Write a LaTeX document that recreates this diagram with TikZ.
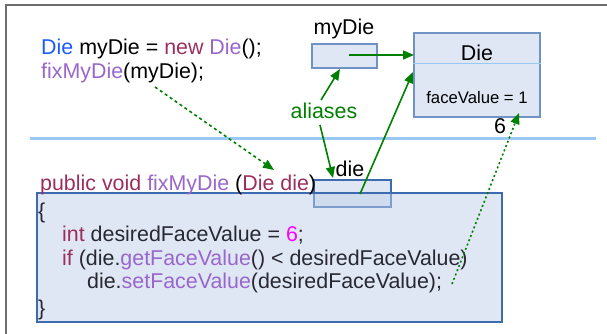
\documentclass[tikz,border=0pt]{standalone}
\usepackage{fontspec}
\setmainfont{Liberation Sans}
\usetikzlibrary{arrows.meta}
\definecolor{grn}{RGB}{0,128,0}
\definecolor{kwblue}{RGB}{26,92,255}
\definecolor{kwmag}{RGB}{155,46,94}
\definecolor{kwpur}{RGB}{153,102,204}
\definecolor{kwpink}{RGB}{255,0,255}
\definecolor{codetxt}{RGB}{40,40,50}
\definecolor{boxfill}{RGB}{190,208,232}
\definecolor{boxedge}{RGB}{112,146,196}
\definecolor{codeedge}{RGB}{62,106,176}
\definecolor{sepblue}{RGB}{153,200,245}
\definecolor{framegray}{RGB}{110,110,110}
\begin{document}
\begin{tikzpicture}[x=1pt,y=-1pt,
  txt/.style={inner sep=0pt, anchor=base west, font=\fontsize{21.4}{25}\selectfont},
  ctxt/.style={inner sep=0pt, anchor=base, font=\fontsize{21.4}{25}\selectfont},
  membox/.style={draw=boxedge, line width=1.2pt, fill=boxfill, fill opacity=0.5, text opacity=1, inner sep=0pt},
  codebox/.style={draw=codeedge, line width=1.2pt, fill=boxfill, fill opacity=0.5, inner sep=0pt},
  garrow/.style={draw=grn, line width=1.6pt, -{Triangle[length=11pt,width=9pt]}},
  gdots/.style={draw=grn, line width=1.6pt, dash pattern=on 2pt off 2.6pt, -{Triangle[length=11pt,width=9pt]}},
  gdash/.style={draw=grn, line width=1.6pt, dash pattern=on 3pt off 3pt, -{Triangle[length=11pt,width=9pt]}}
]
\useasboundingbox (0,0) rectangle (607,334);
% outer frame (left and top edges)
\draw[framegray, line width=2pt] (6,334) -- (6,5) -- (607,5);
% separator
\draw[sepblue, line width=3pt] (30,138) -- (596,138);

% memory boxes
\node[membox, minimum width=65pt, minimum height=24pt] (mydiebox) at (344.5,56) {};
\node[membox, minimum width=126pt, minimum height=84pt] (dieobj) at (477,75) {};
\draw[sepblue, line width=1.2pt] ([yshift=-31pt]dieobj.north west) -- ([yshift=-31pt]dieobj.north east);
\node[membox, draw=codeedge, minimum width=77pt, minimum height=27pt] (diebox) at (352.5,193.5) {};
\node[codebox, minimum width=465pt, minimum height=129pt] (code) at (269.5,257.5) {};

% labels
\node[ctxt] (mydielbl) at (344,35) {myDie};
\node[ctxt] (dietitle) at (477,61) {Die};
\node[inner sep=0pt, anchor=base, font=\fontsize{16.7}{20}\selectfont] (faceval) at (477,104) {faceValue = 1};
\node[ctxt] (six) at (500,133) {6};
\node[ctxt, text=grn] (aliases) at (324,118) {aliases};
\node[ctxt] (dielbl) at (350,176) {die};

% top code
\node[txt] (line1) at (41,55) {\textcolor{kwblue}{Die} myDie = \textcolor{kwmag}{new} \textcolor{kwpur}{Die}();};
\node[txt] (line2) at (41,79) {\textcolor{kwpur}{fixMyDie}(myDie);};

% method
\node[txt] (sig) at (40,190) {\textcolor{kwmag}{public void} \textcolor{kwpur}{fixMyDie} (\textcolor{kwmag}{Die die})};
\node[txt, text=codetxt] (c1) at (38,218) {\{};
\node[txt, text=codetxt] (c2) at (62,241) {\textcolor{kwmag}{int} desiredFaceValue = \textcolor{kwpink}{6};};
\node[txt, text=codetxt] (c3) at (62,265) {\textcolor{kwmag}{if} (die.\textcolor{kwpur}{getFaceValue}() < desiredFaceValue)};
\node[txt, text=codetxt] (c4) at (87,288) {die.\textcolor{kwpur}{setFaceValue}(desiredFaceValue);};
\node[txt, text=codetxt] (c5) at (38,315) {\}};

% connector endpoints
\coordinate (ptrstart) at (349,55);
\coordinate (ptrend) at (414,55);
\coordinate (alUpStart) at (321,100);
\coordinate (alUpEnd) at (340,69);
\coordinate (alDnStart) at (320,125);
\coordinate (alDnEnd) at (333,178);
\coordinate (dieStart) at (360,194);
\coordinate (dieEnd) at (413,72);
\coordinate (setStart) at (452,284);
\coordinate (setEnd) at (519,113);
\coordinate (argStart) at (155,87);
\coordinate (argEnd) at (274,170);

\draw[garrow] (ptrstart) -- (ptrend);
\draw[garrow] (alUpStart) -- (alUpEnd);
\draw[garrow] (alDnStart) -- (alDnEnd);
\draw[garrow] (dieStart) -- (dieEnd);
\draw[gdots] (setStart) -- (setEnd);
\draw[gdash] (argStart) -- (argEnd);
\end{tikzpicture}
\end{document}
